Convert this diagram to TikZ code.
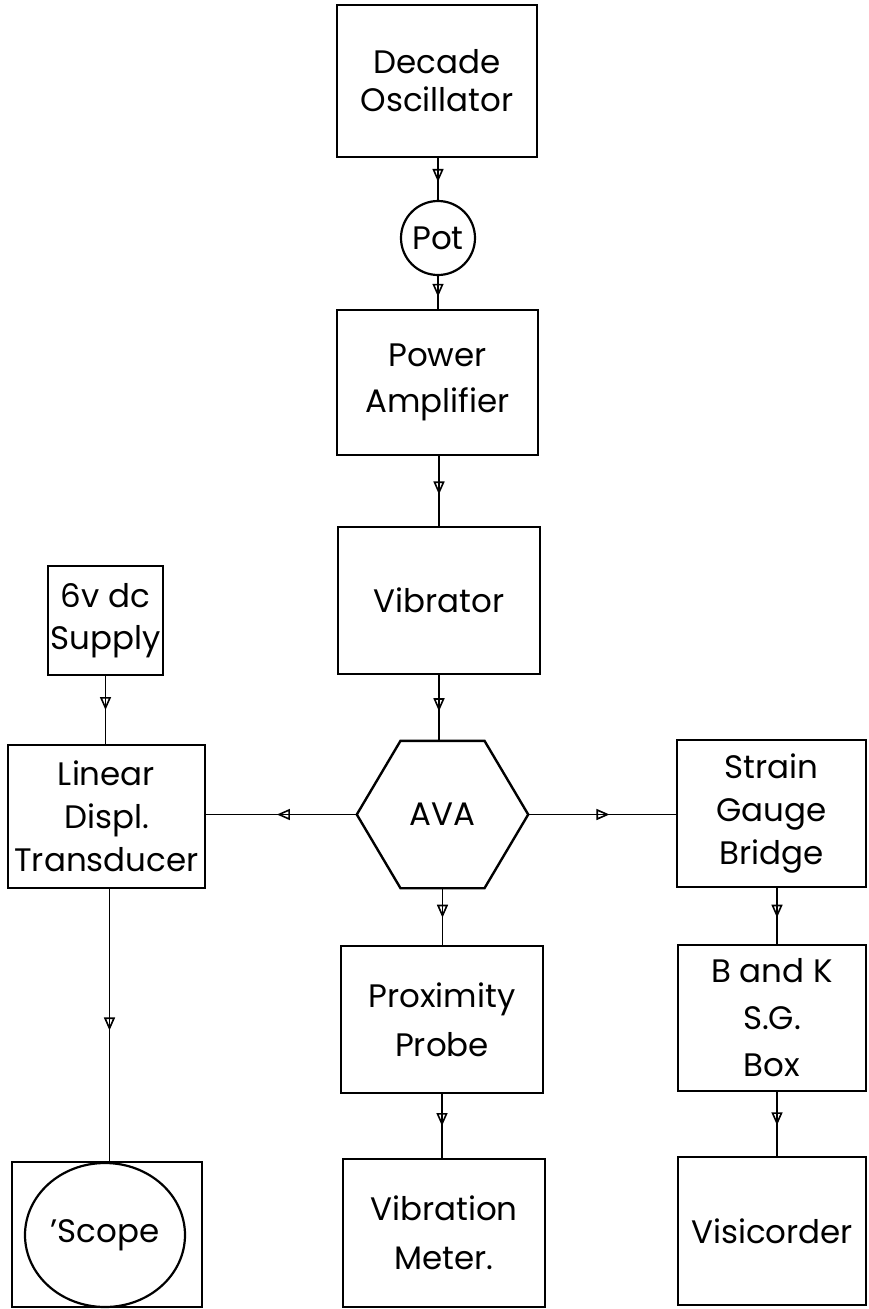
\documentclass[tikz,border=0pt]{standalone}
\usepackage{fontspec}
\setmainfont{Poppins}
\usetikzlibrary{arrows.meta,decorations.markings,shapes.geometric,calc}
\begin{document}
\begin{tikzpicture}[x=1pt,y=-1pt,
  lbl/.style={font=\fontsize{32.5}{#1}\selectfont},
  lbl/.default=44,
  box/.style={draw, line width=2.2pt, rectangle, inner sep=0pt, align=center, lbl},
  conn/.style={line width=1.8pt, postaction={decorate},
    decoration={markings, mark=at position #1 with {\arrow{Triangle[open,length=13pt,width=11pt,line width=1.6pt]}}}},
  conn/.default=0.55,
  hexline/.style={line width=2.4pt, line join=miter}]
\useasboundingbox (0,0) rectangle (868,1309);

\node[box, lbl=38, minimum width=200pt, minimum height=152pt] (osc) at (437,81) {Decade\\Oscillator};
\node[draw, circle, line width=2.2pt, minimum size=74pt, inner sep=0pt, lbl] (pot) at (438,238) {Pot};
\node[box, lbl=46, minimum width=201pt, minimum height=145pt] (amp) at (437.5,382.5) {Power\\Amplifier};
\node[box, minimum width=202pt, minimum height=147pt] (vib) at (439,600.5) {Vibrator};
\node[box, lbl=42, minimum width=115pt, minimum height=109pt] (sup) at (105.5,620.5) {6v dc\\Supply};
\node[box, lbl=43, minimum width=197pt, minimum height=143pt] (ldt) at (106.5,816.5) {Linear\\Displ.\\Transducer};
\node[minimum width=171pt, minimum height=147pt, inner sep=0pt, lbl] (ava) at (442.5,814.5) {AVA};
\draw[hexline] ($(ava.north)+(-42,0)$) -- ($(ava.north)+(42,0)$) -- (ava.east)
  -- ($(ava.south)+(42,0)$) -- ($(ava.south)+(-42,0)$) -- (ava.west) -- cycle;
\node[box, lbl=43, minimum width=189pt, minimum height=147pt] (sgb) at (771.5,813.5) {Strain\\Gauge\\Bridge};
\node[box, lbl=47, minimum width=188pt, minimum height=146pt] (bk) at (772,1018) {B and K\\S.G.\\Box};
\node[box, minimum width=188pt, minimum height=148pt] (vis) at (772,1231) {Visicorder};
\node[box, lbl=49, minimum width=202pt, minimum height=147pt] (prox) at (442,1019.5) {Proximity\\Probe};
\node[box, lbl=49, minimum width=202pt, minimum height=148pt] (vm) at (444,1233) {Vibration\\Meter.};
\node[box, minimum width=190pt, minimum height=145pt] (scopebox) at (107,1234.5) {};
\node[draw, ellipse, line width=2.2pt, minimum width=160pt, minimum height=144pt, inner sep=0pt, lbl] (scope) at (105,1235) {'Scope};

\draw[conn=0.57] (pot.north |- osc.south) -- (pot.north);
\draw[conn=0.63] (pot.south) -- (pot.south |- amp.north);
\draw[conn] (vib.north |- amp.south) -- (vib.north);
\draw[conn] (vib.south) -- (vib.south |- ava.north);
\draw[conn=0.5] (sup.south) -- (sup.south |- ldt.north);
\draw[conn=0.53] (ava.west) -- (ava.west -| ldt.east);
\draw[conn] (ava.east) -- (ava.east -| sgb.west);
\draw[conn=0.52] (ava.south) -- (ava.south |- prox.north);
\draw[conn=0.5] (prox.south) -- (prox.south |- vm.north);
\draw[conn=0.53] ([xshift=5.5pt]sgb.south) -- ([xshift=5.5pt]sgb.south |- bk.north);
\draw[conn=0.52] ([xshift=5pt]bk.south) -- ([xshift=5pt]bk.south |- vis.north);
\draw[conn=0.52] ([xshift=3pt]ldt.south) -- ([xshift=3pt]ldt.south |- scopebox.north);
\end{tikzpicture}
\end{document}
